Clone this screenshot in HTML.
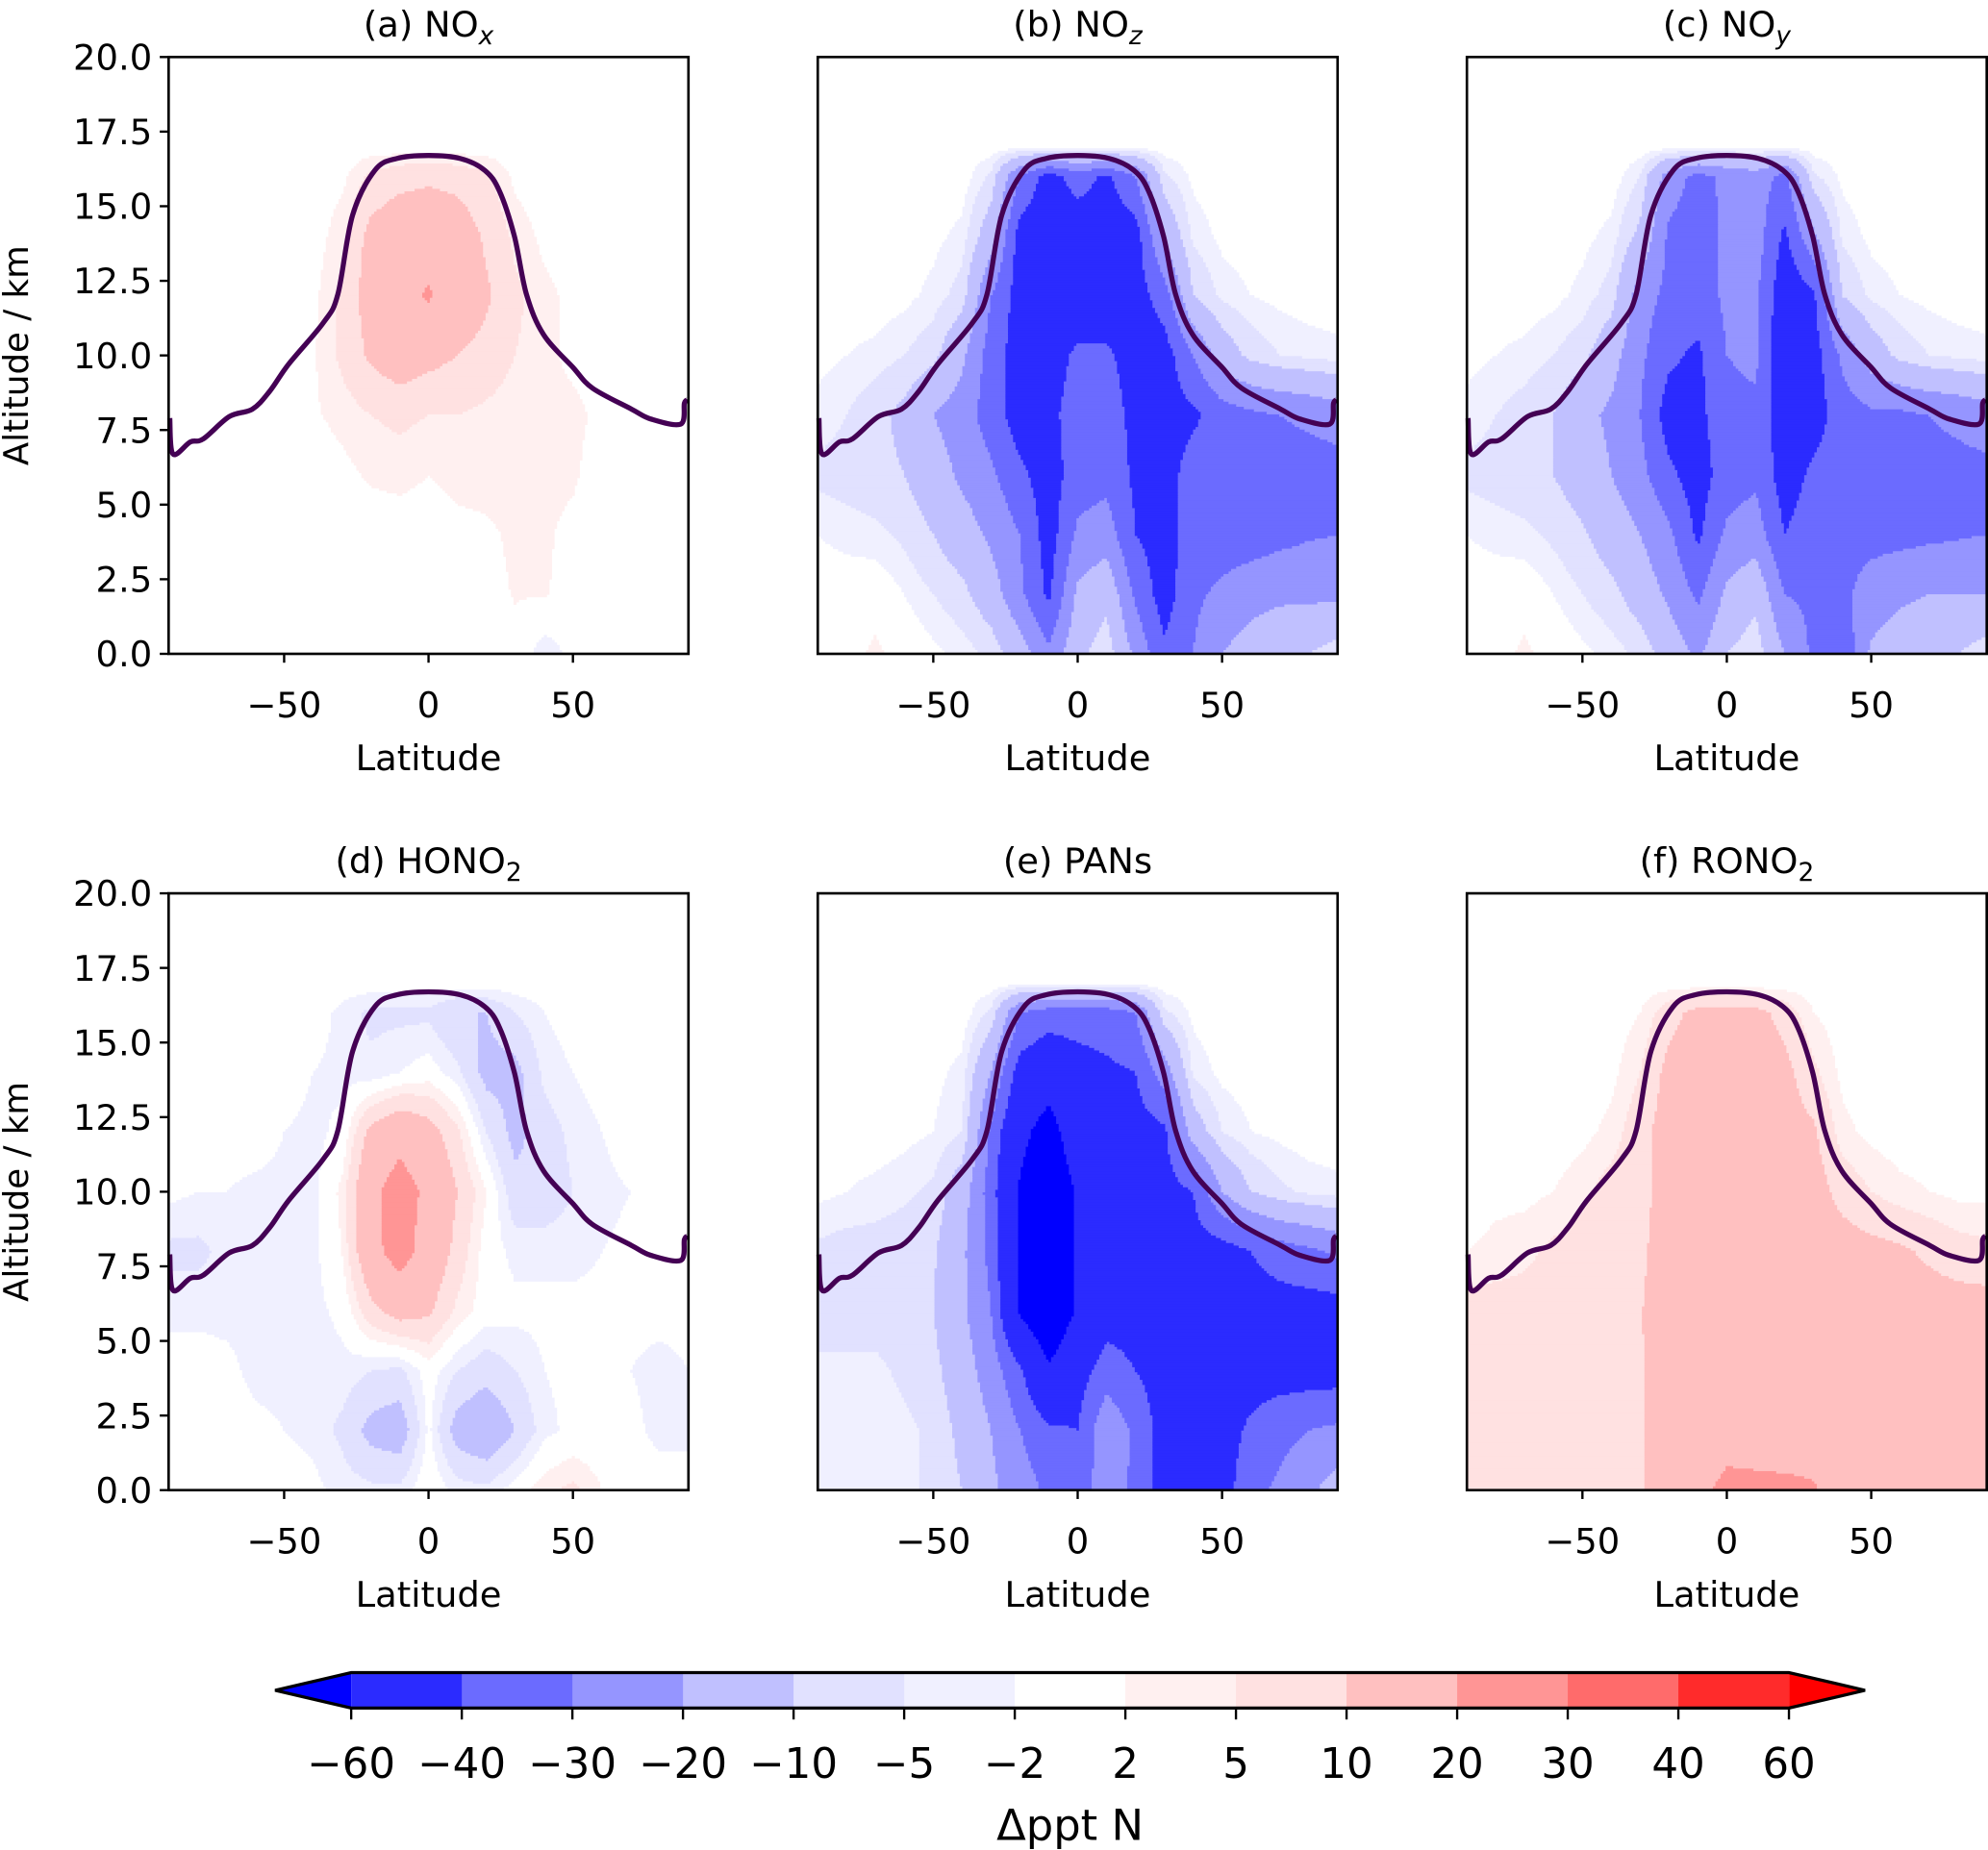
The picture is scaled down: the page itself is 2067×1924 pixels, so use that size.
<!DOCTYPE html>
<html><head><meta charset="utf-8"><title>Δppt N latitude–altitude panels</title>
<style>html,body{margin:0;padding:0;background:#fff}svg{display:block}text{font-family:"DejaVu Sans","Liberation Sans",sans-serif;fill:#000}</style>
</head><body>
<svg id="fig" xmlns="http://www.w3.org/2000/svg" width="2067" height="1924" viewBox="0 0 1568 1460" preserveAspectRatio="none">
<rect x="0" y="0" width="1568" height="1460" fill="#fff"/>
</svg>
<script>
// ---- data ----
const lats = [-90,-80,-70,-60,-50,-40,-30,-20,-10,0,10,20,30,40,50,60,70,80,90];
const alts = [0,2,4,6,8,10,12,14,16,17,20];
const levels = [-60,-40,-30,-20,-10,-5,-2,2,5,10,20,30,40,60];
const levelColors = ["#0000ff","#2b2bff","#6b6bff","#9595ff","#c0c0ff","#e1e1ff","#f0f0ff","#ffffff","#fff0f0","#ffe1e1","#ffc0c0","#ff9595","#ff6b6b","#ff2b2b","#ff0000"];
const cbarLabels = ["\u221260","\u221240","\u221230","\u221220","\u221210","\u22125","\u22122","2","5","10","20","30","40","60"];
const yTicks = [0,2.5,5,7.5,10,12.5,15,17.5,20];
const xTicks = [-50,0,50];
const tropLat = [-89.6,-88.5,-82.5,-78,-69,-61,-55,-48.5,-36.4,-31.4,-26.3,-18.6,-11,0,11,19.5,24.6,29.7,33.9,39.8,50,56.8,70.3,77,87.3,88.6,89.8];
const tropAlt = [7.9,6.7,7.1,7.2,7.95,8.2,8.8,9.7,11.1,12.05,14.7,16.2,16.6,16.7,16.6,16.2,15.5,14.0,12.05,10.7,9.6,8.9,8.2,7.87,7.7,8.4,8.5];
const Z = [0,0,0,0,0,0,0,0,0,0,0,0,0,0,0,0,0,0,0];
// rows ordered by alts (0 km upward)
const fieldA = [
 [0,0,0,0,0,0,0,0,0,0,0,0,1,-4,-1,0,0,0,0],
 [0,0,0,0,0,0,0,0,0,0,0,1,2.2,2.2,1,0,0,0,0],
 [0,0,0,0,0,0,0,0,0,0,1,1.5,2.5,2.5,1,0,0,0,0],
 [0,0,0,0,0,0,1,2.5,3,2,3,3,3,3,2.5,0,0,0,0],
 [0,0,0,0,0,1.5,3,5,6,5,5,4,3,3,3,1,0,0,0],
 [0,0,0,0,0,1.5,6,11,14,12,10,8,5,3,1,0,0,0,0],
 [0,0,0,0,0,1,6,13,17,21,15,11,6,3,1,0,0,0,0],
 [0,0,0,0,0,0,4,12,15,15,14,9,4,1,0,0,0,0,0],
 [0,0,0,0,0,0,1,6,8,9,8,6,1,0,0,0,0,0,0],
 Z, Z];
const fieldB = [
 [0,1,2.5,1,-1,-3,-6,-15,-28,-12,-6,-22,-38,-30,-20,-15,-12,-10,-6],
 [0,0,1,-2,-5,-8,-15,-28,-42,-18,-12,-32,-45,-32,-28,-24,-22,-22,-22],
 [-2,-3,-4,-6,-10,-15,-22,-30,-45,-28,-25,-40,-45,-35,-35,-35,-33,-31,-30],
 [-6,-7,-8,-10,-15,-22,-28,-38,-45,-35,-33,-42,-45,-35,-35,-35,-35,-35,-35],
 [-3,-5,-8,-12,-20,-25,-35,-45,-43,-35,-35,-43,-45,-42,-35,-32,-30,-28,-25],
 [-1,-2,-3,-5,-8,-18,-35,-45,-45,-38,-38,-45,-45,-30,-15,-8,-5,-4,-3],
 [0,0,0,-1,-3,-7,-30,-45,-48,-48,-48,-45,-35,-10,-4,-2,-1,0,0],
 [0,0,0,0,-1,-3,-15,-45,-48,-48,-48,-45,-18,-4,-1,0,0,0,0],
 [0,0,0,0,0,0,-6,-30,-45,-35,-42,-30,-6,-1,0,0,0,0,0],
 Z, Z];
const fieldC = [
 [0,1,2.5,1,-1,-3,-6,-14,-22,-10,-6,-20,-32,-38,-18,-14,-12,-10,-6],
 [0,0,1,-2,-5,-8,-14,-22,-32,-18,-12,-30,-32,-32,-26,-22,-20,-20,-20],
 [-2,-3,-4,-6,-9,-14,-20,-28,-42,-28,-25,-40,-35,-33,-33,-33,-32,-31,-30],
 [-6,-7,-8,-10,-14,-20,-27,-38,-45,-35,-32,-45,-38,-33,-33,-33,-33,-33,-33],
 [-3,-5,-7,-10,-17,-22,-30,-45,-43,-33,-32,-47,-45,-35,-32,-32,-30,-28,-25],
 [-1,-2,-3,-5,-8,-16,-28,-38,-42,-30,-28,-50,-45,-28,-15,-8,-5,-4,-3],
 [0,0,0,-1,-3,-7,-25,-33,-35,-28,-28,-48,-42,-10,-4,-2,-1,0,0],
 [0,0,0,0,-1,-3,-12,-32,-35,-28,-25,-42,-22,-4,-1,0,0,0,0],
 [0,0,0,0,0,0,-5,-25,-33,-28,-25,-33,-6,-1,0,0,0,0,0],
 Z, Z];
const fieldD = [
 [0,0,0,0,0,-1,-3,-4,-4,1,-3,-4,0,4,6,2,0,0,0],
 [0,0,0,-1,-2,-3,-6,-12,-14,-1,-13,-16,-10,-3,-1,-1,-1,-3,-3],
 [0,0,-1,-3,-3,-4,-3,-5,-6,0,-5,-8,-5,-2,-1,-1,-2,-3,-2],
 [-3,-3,-3,-3,-3,-3,-1,8,13,11,4,0,-1,-1,-1,-1,-1,-1,-1],
 [-6,-6,-4,-3,-3,-3,2,17,24,16,8,0,-3,-3,-3,-2,-1,-1,-1],
 [-1,-2,-2,-3,-3,-3,3,18,24,18,10,2,-8,-8,-5,-3,-2,-1,-1],
 [0,0,0,0,-2,-3,-1,12,17,13,6,-5,-12,-7,-4,-2,0,0,0],
 [0,0,0,0,0,-2,-3,-4,-2,0,-4,-12,-12,-4,-2,0,0,0,0],
 [0,0,0,0,0,0,-3,-6,-6,-6,-10,-10,-5,-2,0,0,0,0,0],
 Z, Z];
const fieldE = [
 [-3,-3,-3,-4,-6,-10,-18,-25,-32,-35,-25,-32,-45,-50,-45,-33,-28,-22,-15],
 [-3,-3,-3,-4,-6,-12,-20,-30,-38,-40,-22,-32,-45,-45,-45,-38,-33,-30,-28],
 [-4,-4,-4,-6,-8,-15,-25,-38,-58,-45,-35,-40,-45,-45,-45,-45,-45,-45,-45],
 [-7,-7,-7,-8,-10,-18,-30,-62,-75,-58,-45,-45,-45,-45,-45,-45,-45,-45,-45],
 [-6,-7,-7,-8,-9,-18,-33,-62,-75,-58,-45,-45,-45,-45,-45,-40,-35,-32,-28],
 [-1,-2,-3,-4,-6,-15,-35,-62,-75,-58,-45,-45,-45,-40,-20,-10,-6,-4,-3],
 [0,0,0,-1,-2,-5,-32,-55,-68,-48,-45,-45,-42,-15,-5,-2,-1,0,0],
 [0,0,0,0,-1,-3,-20,-45,-50,-45,-42,-40,-25,-4,-1,0,0,0,0],
 [0,0,0,0,0,0,-6,-30,-35,-35,-35,-30,-6,-1,0,0,0,0,0],
 Z, Z];
const fieldF = [
 [7,7,7,7,7,7,9.7,12,18,22,22,22,21,14,13,13,13,13,13],
 [7,7,7,7,7,7,9.7,12,14,17,16,15,15,13,13,13,13,13,13],
 [7,7,7,7,7,7,9.7,12,13,13,13,13,13,13,13,13,13,13,13],
 [7,7,7,7,7,7,9.7,13,13,13,13,13,13,13,13,13,13,13,13],
 [2,3,4,6,7,7,9,13,13,13,13,13,13,13,12,11,9,7,6],
 [0,1,1,2,4,7,8,13,13,13,13,13,13,8,5,3,2,1,1],
 [0,0,0,0,1,3,8,13,13,13,13,13,11,3,1,0,0,0,0],
 [0,0,0,0,0,1,5,12,13,13,13,12,6,1,0,0,0,0,0],
 [0,0,0,0,0,0,2,8,12,12,12,8,2,0,0,0,0,0,0],
 Z, Z];

// ---- layout ----
const NS = "http://www.w3.org/2000/svg";
const svg = document.getElementById('fig');
const colX = [133,645,1157], rowY = [45,705], PW = 410, PH = 471;
function mk(tag, attrs, parent){const e=document.createElementNS(NS,tag);for(const k in attrs)e.setAttribute(k,attrs[k]);(parent||svg).appendChild(e);return e;}
function cls(v){let k=0;while(k<levels.length&&v>=levels[k])k++;return k;}
function sample(F, lat, alt){
  let fi=(lat-lats[0])/(lats[1]-lats[0]); fi=Math.max(0,Math.min(lats.length-1.0001,fi));
  let j=0; while(j<alts.length-2 && alt>alts[j+1]) j++;
  let b=(alt-alts[j])/(alts[j+1]-alts[j]); b=Math.max(0,Math.min(1,b));
  const i=Math.floor(fi), a=fi-i;
  return F[j][i]*(1-a)*(1-b)+F[j][i+1]*a*(1-b)+F[j+1][i]*(1-a)*b+F[j+1][i+1]*a*b;
}
const panels = [
 {id:'a', title:['(a) NO','x',true], F:fieldA, c:0, r:0},
 {id:'b', title:['(b) NO','z',true], F:fieldB, c:1, r:0},
 {id:'c', title:['(c) NO','y',true], F:fieldC, c:2, r:0},
 {id:'d', title:['(d) HONO','2',false], F:fieldD, c:0, r:1},
 {id:'e', title:['(e) PANs','',false], F:fieldE, c:1, r:1},
 {id:'f', title:['(f) RONO','2',false], F:fieldF, c:2, r:1}
];
panels.forEach(p=>{
  const x0=colX[p.c], y0=rowY[p.r];
  const sx = lat => x0 + (lat+90)/180*PW;
  const sy = alt => y0 + PH - alt/20*PH;
  const g = mk('g',{});
  
  
  const fill = mk('g',{},g);
  
  
  const step=2, nx=Math.ceil(PW/step), ny=Math.ceil(PH/step);
  for(let r=0;r<ny;r++){
    const yTop=y0+r*step, yc=Math.min(yTop+step/2,y0+PH);
    const alt=(y0+PH-yc)/PH*20;
    let runStart=0, runCls=-1;
    for(let c=0;c<=nx;c++){
      let k=-1;
      if(c<nx){const xc=x0+c*step+step/2; const lat=(xc-x0)/PW*180-90; k=cls(sample(p.F,lat,alt));}
      if(k!==runCls){
        if(runCls>=0 && runCls!==7){
          const rc=mk('rect',{x:x0+runStart*step,y:yTop,width:Math.min((c-runStart)*step,PW-runStart*step)+0.4,height:Math.min(step,y0+PH-yTop)+0.4,fill:levelColors[runCls]},fill);
          
          
        }
        runStart=c; runCls=k;
      }
    }
  }
  // tropopause (Catmull-Rom smoothed)
  const P=tropLat.map((la,i)=>[sx(la),sy(tropAlt[i])]);
  let d='M'+P[0][0].toFixed(1)+' '+P[0][1].toFixed(1);
  for(let i=0;i<P.length-1;i++){
    const p0=P[Math.max(0,i-1)],p1=P[i],p2=P[i+1],p3=P[Math.min(P.length-1,i+2)];
    const c1=[p1[0]+(p2[0]-p0[0])/6,p1[1]+(p2[1]-p0[1])/6];
    const c2=[p2[0]-(p3[0]-p1[0])/6,p2[1]-(p3[1]-p1[1])/6];
    d+='C'+c1.map(v=>v.toFixed(1)).join(' ')+' '+c2.map(v=>v.toFixed(1)).join(' ')+' '+p2[0].toFixed(1)+' '+p2[1].toFixed(1);
  }
  const tp=mk('path',{d:d,fill:'none',stroke:'#440154','stroke-width':4,'stroke-linejoin':'round'},g);
  
  
  // frame
  const fr=mk('rect',{x:x0,y:y0,width:PW,height:PH,fill:'none',stroke:'#000','stroke-width':2},g);
  
  
  // x ticks
  xTicks.forEach(t=>{
    const X=sx(t);
    const tk=mk('line',{x1:X,y1:y0+PH,x2:X,y2:y0+PH+7,stroke:'#000','stroke-width':1.8},g);
    
    
    const tl=mk('text',{x:X,y:y0+PH+50,'text-anchor':'middle','font-size':28},g);
    tl.textContent = t<0?'\u2212'+Math.abs(t):String(t);
    
    
  });
  const xl=mk('text',{x:x0+PW/2,y:y0+PH+92,'text-anchor':'middle','font-size':28},g);
  xl.textContent='Latitude';
  
  
  if(p.c===0){
    yTicks.forEach(t=>{
      const Y=sy(t);
      const tk=mk('line',{x1:x0-7,y1:Y,x2:x0,y2:Y,stroke:'#000','stroke-width':1.8},g);
      
      
      const tl=mk('text',{x:x0-13,y:Y+10,'text-anchor':'end','font-size':28},g);
      tl.textContent=t.toFixed(1);
      
      
    });
    const yl=mk('text',{x:0,y:0,'text-anchor':'middle','font-size':27,transform:'translate(22,'+(y0+PH/2)+') rotate(-90)'},g);
    yl.textContent='Altitude / km';
    
    
  }
  const tt=mk('text',{x:x0+PW/2,y:y0-16,'text-anchor':'middle','font-size':28},g);
  
  
  const s1=mk('tspan',{},tt); s1.textContent=p.title[0];
  if(p.title[1]){const s2=mk('tspan',{'font-size':20,dy:6,'font-style':p.title[2]?'italic':'normal'},tt); s2.textContent=p.title[1];}
});

// ---- colorbar ----
const cb = mk('g',{});


const cbX0=277, cbX1=1411, cbY0=1320, cbY1=1348, nb=levels.length-1, bw=(cbX1-cbX0)/nb;
const lt=mk('polygon',{points:`217,${(cbY0+cbY1)/2} ${cbX0},${cbY0} ${cbX0},${cbY1}`,fill:levelColors[0]},cb);


const rt=mk('polygon',{points:`1471,${(cbY0+cbY1)/2} ${cbX1},${cbY0} ${cbX1},${cbY1}`,fill:levelColors[14]},cb);


for(let i=0;i<nb;i++){
  const r=mk('rect',{x:cbX0+i*bw,y:cbY0,width:bw+0.5,height:cbY1-cbY0,fill:levelColors[i+1]},cb);
  
  
}
const ol=mk('polygon',{points:`217,${(cbY0+cbY1)/2} ${cbX0},${cbY0} ${cbX1},${cbY0} 1471,${(cbY0+cbY1)/2} ${cbX1},${cbY1} ${cbX0},${cbY1}`,fill:'none',stroke:'#000','stroke-width':2.5},cb);


cbarLabels.forEach((lab,i)=>{
  const X=cbX0+i*bw;
  const tk=mk('line',{x1:X,y1:cbY1,x2:X,y2:cbY1+9,stroke:'#000','stroke-width':1.8},cb);
  
  
  const t=mk('text',{x:X,y:1403,'text-anchor':'middle','font-size':33},cb);
  t.textContent=lab;
  
  
});
const cl=mk('text',{x:(cbX0+cbX1)/2,y:1452,'text-anchor':'middle','font-size':34},cb);
cl.textContent='\u0394ppt N';


</script>
</body></html>
